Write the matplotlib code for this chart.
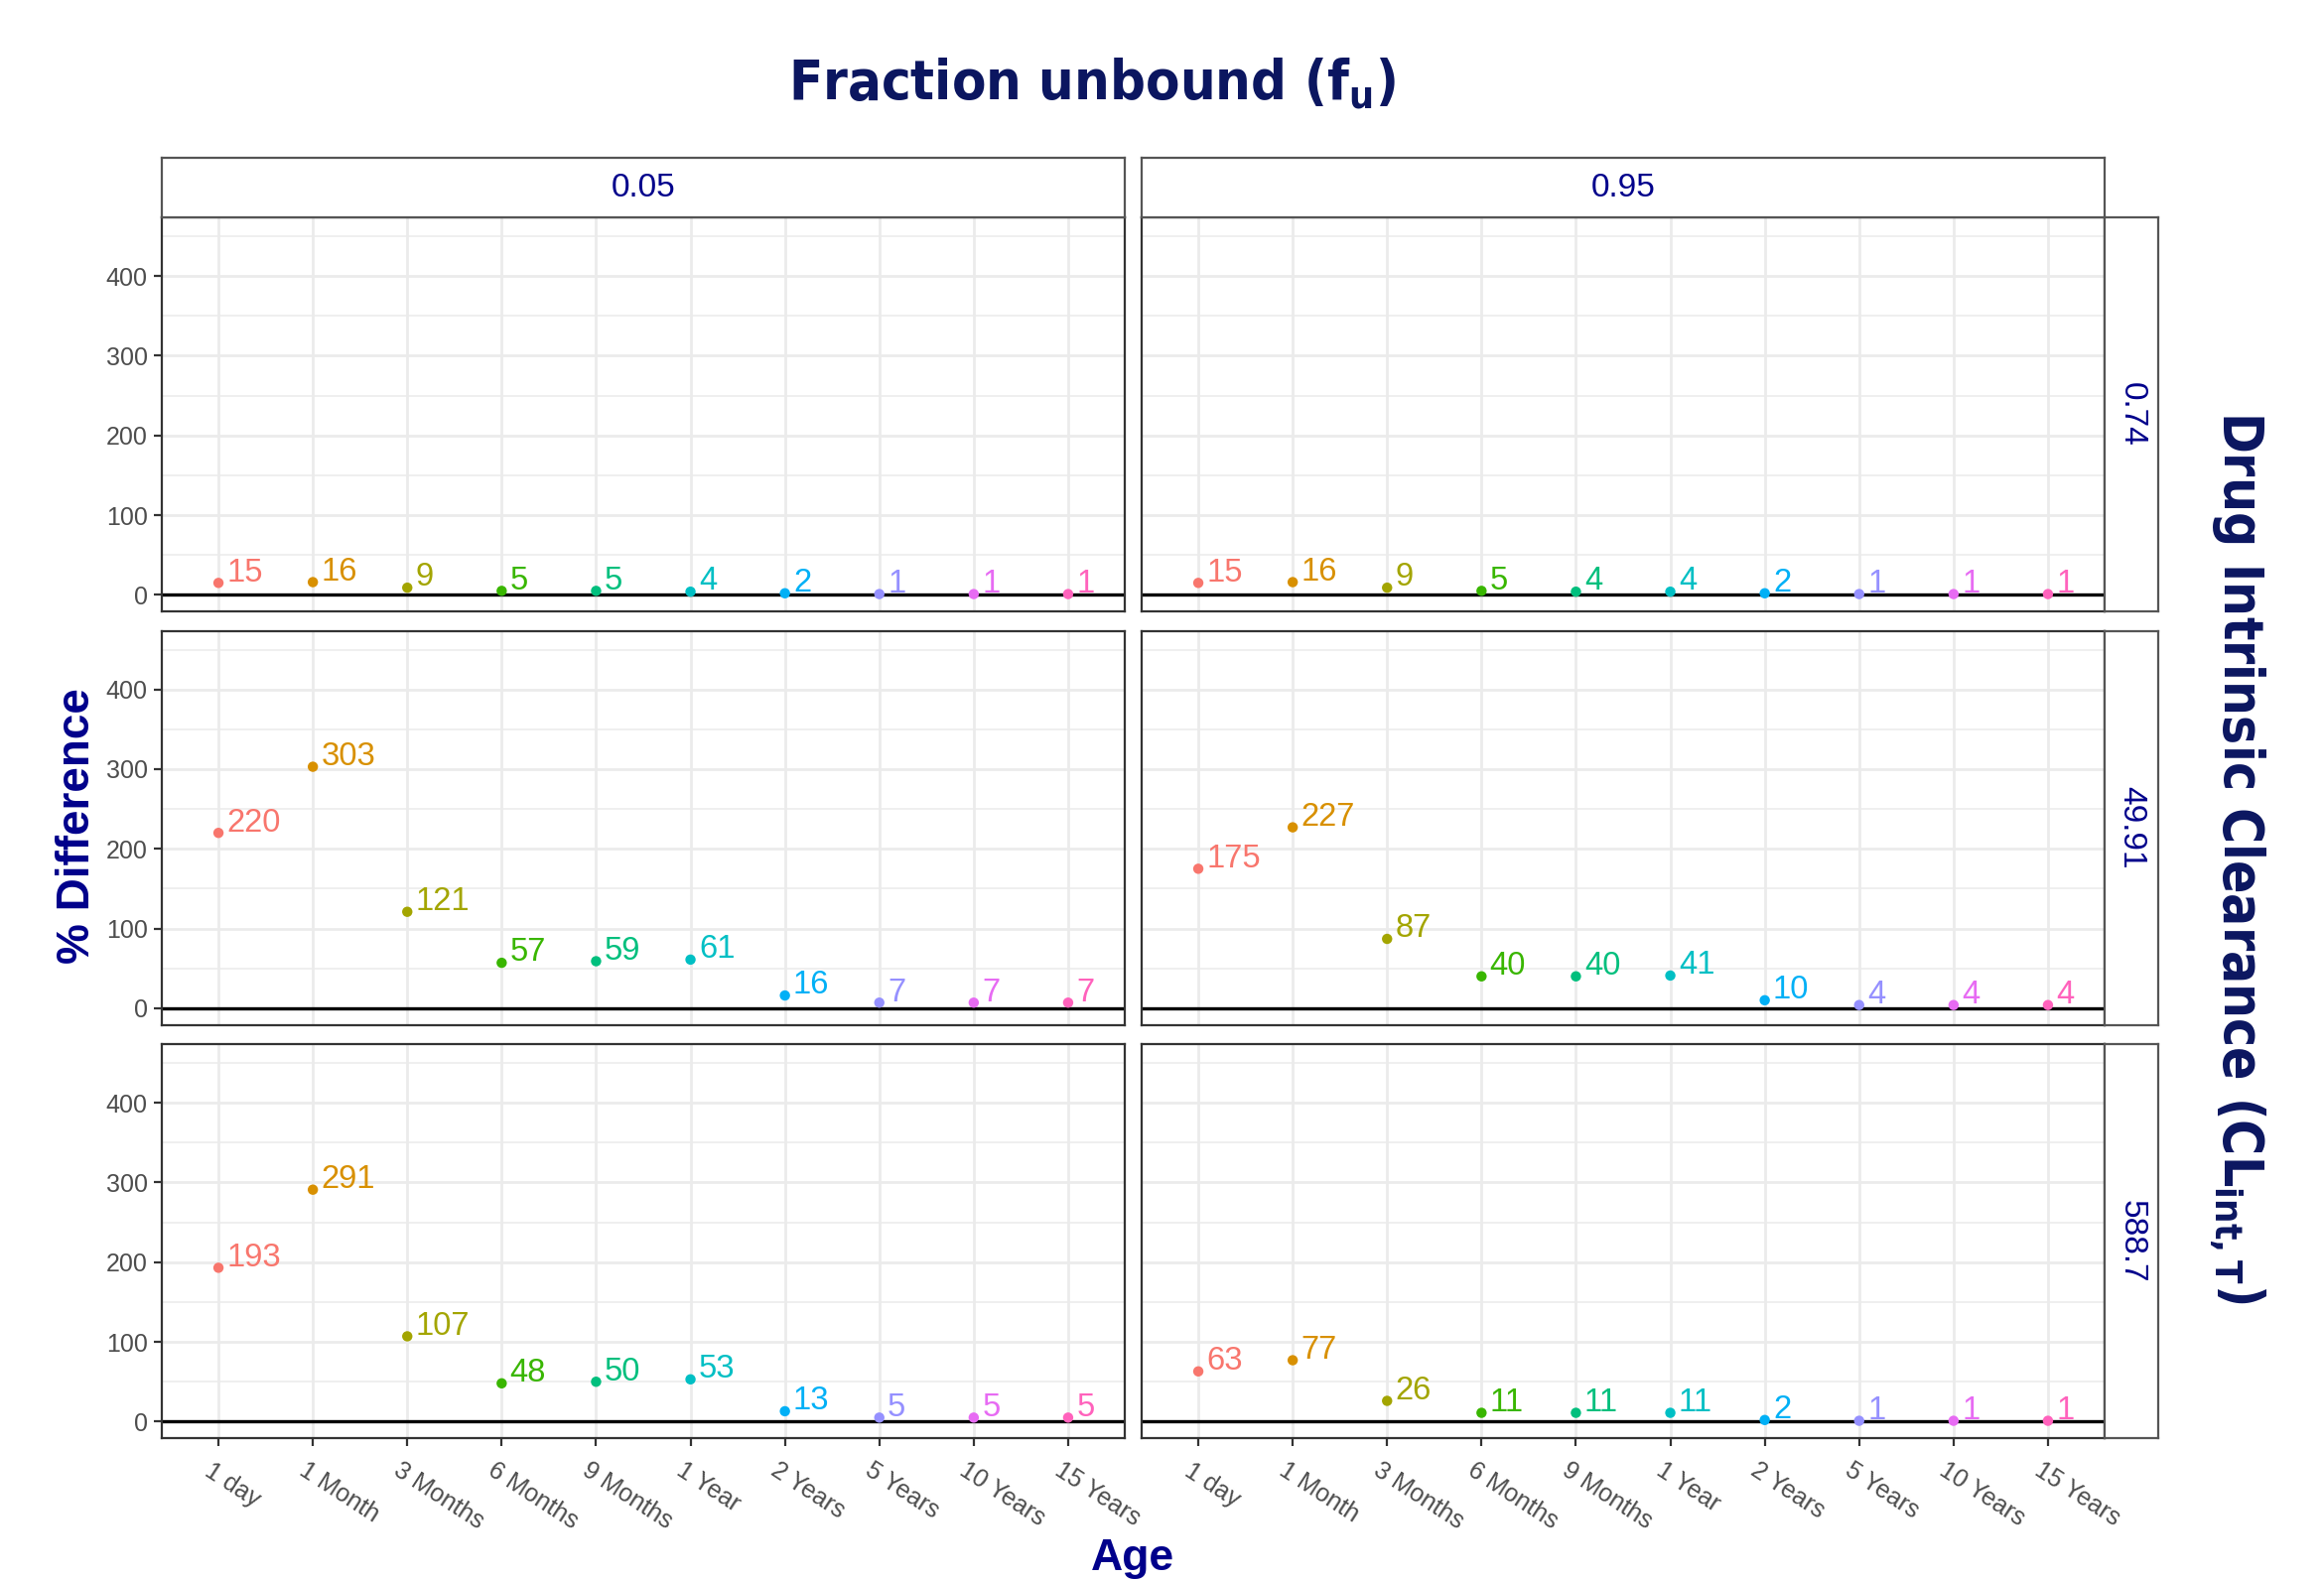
import matplotlib
matplotlib.use('Agg')
import matplotlib.pyplot as plt
from matplotlib import font_manager as fm
from matplotlib.transforms import ScaledTranslation

# ---------------- data ----------------
ages = ['1 day', '1 Month', '3 Months', '6 Months', '9 Months',
        '1 Year', '2 Years', '5 Years', '10 Years', '15 Years']
fu_levels = ['0.05', '0.95']
clint_levels = ['0.74', '49.91', '588.7']
age_colors = ['#F8766D', '#D89000', '#A3A500', '#39B600', '#00BF7D',
              '#00BFC4', '#00B0F6', '#9590FF', '#E76BF3', '#FF62BC']

pdiff_clint074_fu005 = [15, 16, 9, 5, 5, 4, 2, 1, 1, 1]
pdiff_clint074_fu095 = [15, 16, 9, 5, 4, 4, 2, 1, 1, 1]
pdiff_clint4991_fu005 = [220, 303, 121, 57, 59, 61, 16, 7, 7, 7]
pdiff_clint4991_fu095 = [175, 227, 87, 40, 40, 41, 10, 4, 4, 4]
pdiff_clint5887_fu005 = [193, 291, 107, 48, 50, 53, 13, 5, 5, 5]
pdiff_clint5887_fu095 = [63, 77, 26, 11, 11, 11, 2, 1, 1, 1]

panel_data = [
    [pdiff_clint074_fu005, pdiff_clint074_fu095],
    [pdiff_clint4991_fu005, pdiff_clint4991_fu095],
    [pdiff_clint5887_fu005, pdiff_clint5887_fu095],
]
y_major = [0, 100, 200, 300, 400]
y_minor = [50, 150, 250, 350, 450]

# ---------------- fonts ----------------
def _weight_num(w):
    if isinstance(w, (int, float)):
        return w
    return fm.weight_dict.get(str(w).lower(), 400)


def find_condensed_bold():
    best = None
    for f in fm.fontManager.ttflist:
        name = f.name.lower()
        stretch = str(f.stretch).lower()
        is_cond = ('condensed' in name or 'narrow' in name or
                   'condensed' in stretch or 'narrow' in stretch or
                   'condensed' in f.fname.lower() or 'narrow' in f.fname.lower())
        if not is_cond:
            continue
        if 'extra' in stretch or 'ultra' in stretch:
            continue
        if 'italic' in str(f.style).lower() or 'oblique' in str(f.style).lower():
            continue
        if 'italic' in f.fname.lower() or 'oblique' in f.fname.lower():
            continue
        w = _weight_num(f.weight)
        score = abs(w - 700)
        if best is None or score < best[0]:
            best = (score, f.fname)
    return best[1] if best else None


cond_file = find_condensed_bold()
if cond_file:
    TITLE_PROP = fm.FontProperties(fname=cond_file)
else:
    TITLE_PROP = fm.FontProperties(family='DejaVu Sans', weight='bold')

ARIAL = ['Liberation Sans', 'DejaVu Sans']
navy_title = '#0B1660'
dark_blue = '#00008B'

# ---------------- layout ----------------
W, H, DPI = 2341, 1593, 200
fig = plt.figure(figsize=(W / DPI, H / DPI), dpi=DPI)
fig.patch.set_facecolor('white')

col_x = [163, 1150]
col_w = 970
row_top0 = 219
row_h = 397
row_gap = 19.5
strip_top_y0 = 159
strip_right_x0, strip_right_x1 = 2120, 2174


def px_axes(x0, y0, w, h):
    return fig.add_axes([x0 / W, 1 - (y0 + h) / H, w / W, h / H])


x_pos = list(range(1, len(ages) + 1))

for r in range(3):
    y0 = row_top0 + r * (row_h + row_gap)
    for c in range(2):
        ax = px_axes(col_x[c], y0, col_w, row_h)
        vals = panel_data[r][c]
        ax.set_xlim(0.4, 10.6)
        ax.set_ylim(-20.7, 473.7)
        ax.set_xticks(x_pos)
        ax.set_yticks(y_major)
        ax.set_yticks(y_minor, minor=True)
        ax.set_axisbelow(True)
        ax.grid(True, which='major', color='#EBEBEB', lw=1.0)
        ax.grid(True, which='minor', axis='y', color='#EBEBEB', lw=0.55)
        for s in ax.spines.values():
            s.set_color('#333333')
            s.set_linewidth(0.8)
            s.set_zorder(5)
        ax.axhline(0, color='black', lw=1.2, zorder=2)
        ax.scatter(x_pos, vals, s=14, c=age_colors, zorder=3, linewidths=0)
        for xi, v, col in zip(x_pos, vals, age_colors):
            ax.annotate(str(v), (xi, v), xytext=(3.0, 0.6),
                        textcoords='offset points', ha='left', va='baseline',
                        color=col, fontsize=11.8, family=ARIAL, zorder=4)
        ax.tick_params(axis='both', which='minor', length=0)
        if c == 0:
            ax.tick_params(axis='y', which='major', length=2.9, width=0.8,
                           color='#333333', labelcolor='#4D4D4D',
                           labelsize=9, pad=2.2)
            for lab in ax.get_yticklabels():
                lab.set_family(ARIAL)
        else:
            ax.tick_params(axis='y', which='major', length=0, labelleft=False)
        if r == 2:
            ax.set_xticklabels(ages)
            ax.tick_params(axis='x', which='major', length=2.9, width=0.8,
                           color='#333333', labelcolor='#4D4D4D',
                           labelsize=9, pad=4.5)
            for lab in ax.get_xticklabels():
                lab.set_family(ARIAL)
                lab.set_rotation(-33)
                lab.set_ha('left')
                lab.set_va('top')
                lab.set_rotation_mode('anchor')
                lab.set_transform(lab.get_transform() +
                                  ScaledTranslation(-5 / DPI, 0, fig.dpi_scale_trans))
        else:
            ax.tick_params(axis='x', which='major', length=0, labelbottom=False)

        if r == 0:
            sax = px_axes(col_x[c], strip_top_y0, col_w, row_top0 - strip_top_y0)
            sax.set_xticks([])
            sax.set_yticks([])
            for s in sax.spines.values():
                s.set_color('#555555')
                s.set_linewidth(0.8)
            sax.text(0.5, 0.5, fu_levels[c], ha='center', va='center',
                     transform=sax.transAxes, fontsize=12, color=dark_blue,
                     family=ARIAL)
        if c == 1:
            rax = px_axes(strip_right_x0, y0, strip_right_x1 - strip_right_x0, row_h)
            rax.set_xticks([])
            rax.set_yticks([])
            for s in rax.spines.values():
                s.set_color('#555555')
                s.set_linewidth(0.8)
            rax.text(0.5, 0.5, clint_levels[r], ha='center', va='center',
                     rotation=-90, transform=rax.transAxes, fontsize=12,
                     color=dark_blue, family=ARIAL)

# ---------------- titles ----------------
t_title = fig.text(1100 / W, 1 - 85 / H, r'Fraction unbound (f$_{\mathregular{u}}$)',
                   ha='center', va='center', fontsize=26,
                   color=navy_title, fontproperties=TITLE_PROP)
t_title.set_fontsize(26)
t_right = fig.text(2254 / W, 1 - 864 / H,
                   r'Drug Intrinsic Clearance (CL$_{\mathregular{int,T}}$)',
                   ha='center', va='center', rotation=-90,
                   color=navy_title, fontproperties=TITLE_PROP)
t_right.set_fontsize(26)

# fit the condensed titles to the reference extents
renderer = fig.canvas.get_renderer()
for t, target, use_w in [(t_title, 611, True), (t_right, 899, False)]:
    bb = t.get_window_extent(renderer)
    cur = bb.width if use_w else bb.height
    if cur > 0:
        t.set_fontsize(min(34, t.get_fontsize() * target / cur))

fig.text(78 / W, 1 - 832 / H, '% Difference', ha='center', va='center',
         rotation=90, fontsize=16.5, fontweight='bold', color=dark_blue,
         family=ARIAL)
fig.text(1141 / W, 2 / H, 'Age', ha='center', va='bottom',
         fontsize=16, fontweight='bold', color=dark_blue, family=ARIAL)

fig.savefig('out.png', dpi=DPI, facecolor='white')
